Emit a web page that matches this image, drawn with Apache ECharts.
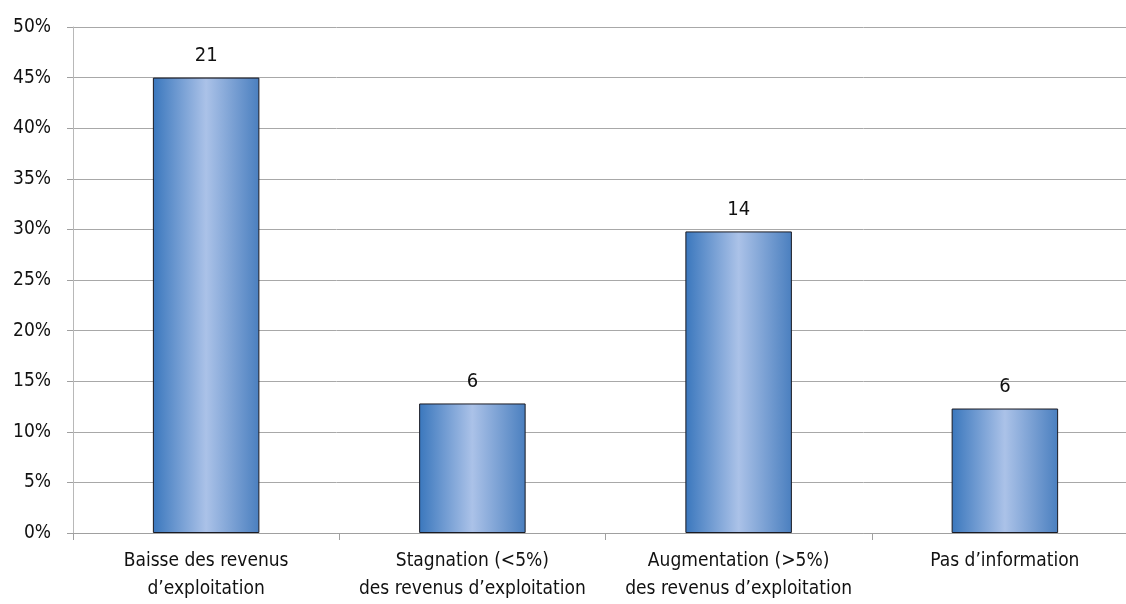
<!DOCTYPE html>
<html><head><meta charset="utf-8">
<script src="https://cdn.jsdelivr.net/npm/echarts@6/dist/echarts.min.js"></script>
<style>html,body{margin:0;padding:0;background:#fff}#c{width:1126px;height:604px}</style>
</head><body><div id="c"></div>
<script>
var categories = ["Baisse des revenus\nd’exploitation", "Stagnation (<5%)\ndes revenus d’exploitation", "Augmentation (>5%)\ndes revenus d’exploitation", "Pas d’information"];
var percentages = [45, 12.8, 29.8, 12.3];
var counts = [21, 6, 14, 6];
var yTicks = [0, 5, 10, 15, 20, 25, 30, 35, 40, 45, 50];

var FONT = '"DejaVu Sans Condensed", "Liberation Sans Narrow", sans-serif';
var chart = echarts.init(document.getElementById('c'));
chart.setOption({
  animation: false,
  grid: {left: 73, top: 27, width: 1065, height: 506, outerBoundsMode: 'none', containLabel: false},
  xAxis: {
    type: 'category', data: categories,
    axisLine: {lineStyle: {color: '#a0a0a0'}},
    axisTick: {show: true, length: 7, interval: 0, lineStyle: {color: '#a0a0a0'}},
    axisLabel: {color: '#111', fontSize: 19, fontFamily: FONT, lineHeight: 28, margin: 14, interval: 0}
  },
  yAxis: {
    type: 'value', min: 0, max: 50, interval: 5,
    axisLine: {show: true, lineStyle: {color: '#b8b8b8', width: 1}},
    axisTick: {show: true, length: 6, lineStyle: {color: '#a0a0a0'}},
    splitLine: {lineStyle: {color: '#a8a8a8'}},
    axisLabel: {color: '#111', fontSize: 19, fontFamily: FONT, margin: 22,
      formatter: function(v){ return yTicks.indexOf(v) >= 0 ? v + '%' : ''; }}
  },
  series: [{
    type: 'bar', data: percentages, barWidth: '40%',
    itemStyle: {
      borderColor: '#1a1a22', borderWidth: 1,
      color: new echarts.graphic.LinearGradient(0, 0, 1, 0, [
        {offset: 0, color: '#3a77bd'},
        {offset: 0.5, color: '#abc2e8'},
        {offset: 1, color: '#4a7fbf'}
      ])
    },
    label: {show: true, position: 'top', distance: 12, color: '#111', fontSize: 20, fontFamily: FONT,
      formatter: function(p){ return counts[p.dataIndex]; }}
  }]
});
</script></body></html>
